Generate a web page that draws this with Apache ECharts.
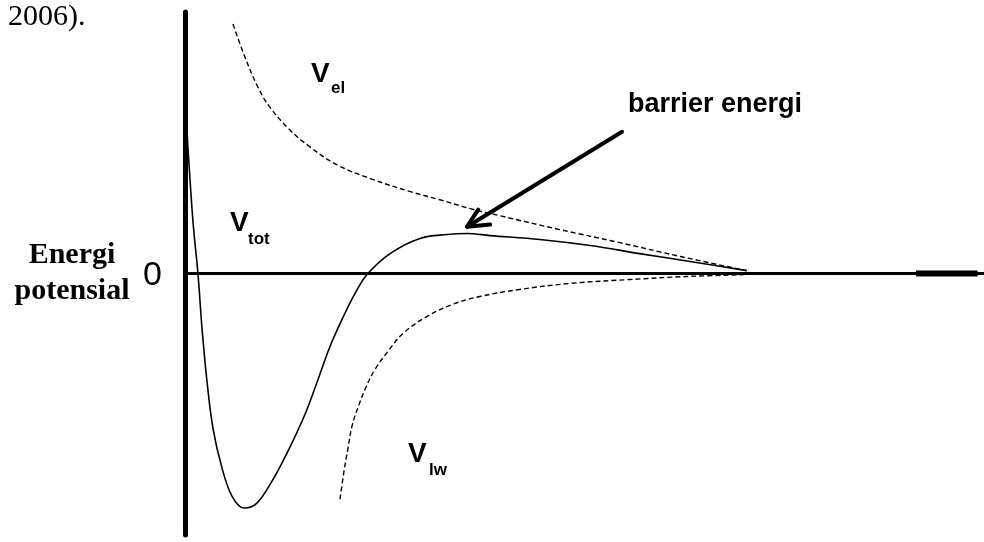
<!DOCTYPE html>
<html>
<head>
<meta charset="utf-8">
<script src="https://cdn.jsdelivr.net/npm/echarts@6/dist/echarts.min.js"></script>
<style>
  html,body{margin:0;padding:0;background:#fff;}
  #chart{width:984px;height:542px;}
</style>
</head>
<body>
<div id="chart"></div>
<script>
// distance on x (0..10), energy on y (-10..10)
var vTot = [[0.025,5.50],[0.038,4.77],[0.10,1.98],[0.163,-0.04],[0.213,-2.10],[0.275,-4.12],[0.35,-5.92],
    [0.463,-7.44],[0.588,-8.51],[0.739,-8.97],[0.90,-8.78],[1.089,-7.94],[1.289,-6.79],[1.502,-5.38],
    [1.665,-4.05],[1.815,-2.79],[1.977,-1.68],[2.128,-0.76],[2.278,-0.04],[2.566,0.76],[2.941,1.34],
    [3.279,1.49],[3.53,1.53],[3.82,1.45],[4.44,1.30],[5.07,1.07],[5.69,0.76],[6.32,0.46],[7.03,0.11]];
var vEl = [[0.60,9.54],[0.75,8.28],[0.91,7.14],[1.06,6.37],[1.31,5.50],[1.56,4.85],[1.90,4.16],
    [2.32,3.63],[2.82,3.13],[3.19,2.82],[3.57,2.48],[3.94,2.21],[4.69,1.68],[5.44,1.18],
    [6.20,0.65],[7.03,0.11]];
var vLw = [[1.94,-8.63],[1.99,-7.56],[2.04,-6.68],[2.09,-5.84],[2.17,-5.08],[2.27,-4.31],[2.38,-3.66],
    [2.54,-2.98],[2.73,-2.29],[3.03,-1.64],[3.35,-1.18],[3.69,-0.88],[4.19,-0.61],[4.82,-0.38],
    [5.57,-0.23],[6.32,-0.11],[7.03,-0.04]];
// thick bit at the end of the zero line
var endSeg = [[9.15,0],[9.92,0]];
// arrow pointing at the barrier
var arrowTail = [5.47,5.42];
var arrowTip = [3.53,1.79];
var arrowWings = [[3.67,2.44],[3.82,1.87]];

var chart = echarts.init(document.getElementById('chart'));

var arrowLines = [[{coord:arrowTail},{coord:arrowTip}]];
for(var i=0;i<arrowWings.length;i++){
    arrowLines.push([{coord:arrowTip},{coord:arrowWings[i]}]);
}

//text at x,y (middle of the line)
function txt(str, x, y, font, align){
    return {
        type:'text', x:x, y:y,
        style:{text:str, font:font, fill:'#000', align:align||'left', verticalAlign:'middle'}
    };
}
var sans = 'bold 28px "Liberation Sans", Arial, sans-serif';
var sub = 'bold 17px "Liberation Sans", Arial, sans-serif';
var serifB = 'bold 30px "Liberation Serif", "Times New Roman", serif';

var option = {
    backgroundColor:'#ffffff',
    animation:false,
    grid:{left:185, right:0, top:12, bottom:7},
    xAxis:{
        type:'value', min:0, max:10,
        axisLine:{show:true, onZero:true, lineStyle:{color:'#000', width:3}},
        axisTick:{show:false}, axisLabel:{show:false}, splitLine:{show:false}
    },
    yAxis:{
        type:'value', min:-10, max:10,
        axisLine:{show:true, onZero:false, lineStyle:{color:'#000', width:5}},
        axisTick:{show:false}, axisLabel:{show:false}, splitLine:{show:false}
    },
    series:[
        {
            name:'Vtot', type:'line', data:vTot, smooth:0.35, showSymbol:false,
            lineStyle:{color:'#000', width:1.6},
            markLine:{
                silent:true, symbol:['none','none'],
                label:{show:false},
                lineStyle:{color:'#000', width:4, type:'solid', cap:'round'},
                data:arrowLines
            }
        },
        {
            name:'Vel', type:'line', data:vEl, smooth:0.4, showSymbol:false,
            lineStyle:{color:'#000', width:1.4, type:[5,3]}
        },
        {
            name:'Vlw', type:'line', data:vLw, smooth:0.4, showSymbol:false,
            lineStyle:{color:'#000', width:1.4, type:[5,3]}
        },
        {
            name:'end', type:'line', data:endSeg, showSymbol:false,
            lineStyle:{color:'#000', width:6}
        }
    ],
    graphic:[
        txt('2006).', 8, 17, '30px "Liberation Serif", "Times New Roman", serif'),
        txt('Energi', 72, 255, serifB, 'center'),
        txt('potensial', 72, 291, serifB, 'center'),
        txt('0', 143, 276, '34px "Liberation Sans", Arial, sans-serif'),
        txt('V', 311, 74, sans), txt('el', 331, 88, sub),
        txt('V', 230, 223, sans), txt('tot', 248, 239, sub),
        txt('V', 408, 454, sans), txt('lw', 429, 470, sub),
        txt('barrier energi', 628, 105, 'bold 27px "Liberation Sans", Arial, sans-serif')
    ]
};
chart.setOption(option);
</script>
</body>
</html>
